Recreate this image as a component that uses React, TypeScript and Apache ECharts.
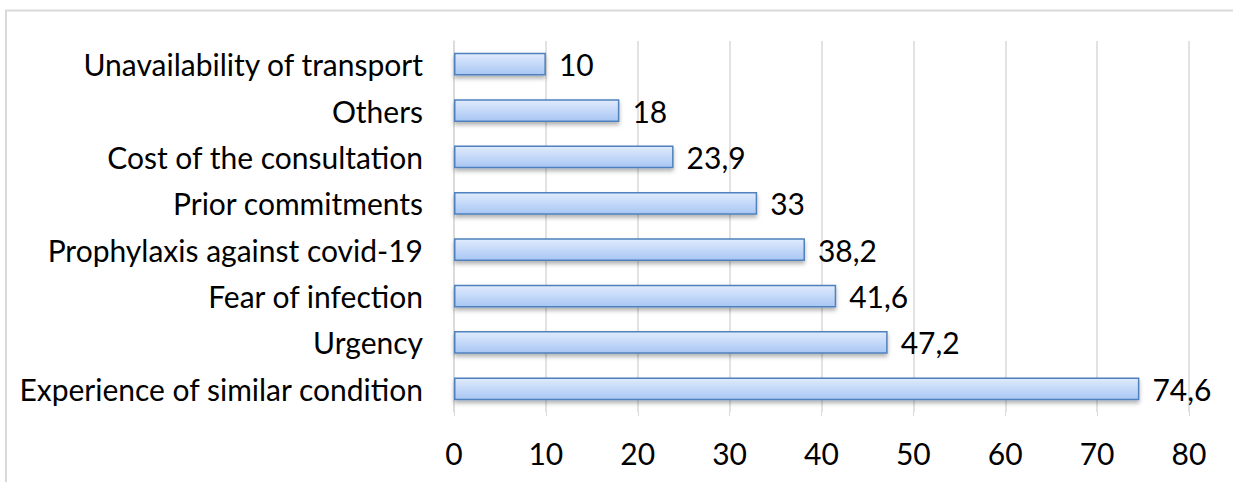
import React, { useEffect, useRef } from "react";
import * as echarts from "echarts";

const categories = [
  "Experience of similar condition",
  "Urgency",
  "Fear of infection",
  "Prophylaxis against covid-19",
  "Prior commitments",
  "Cost of the consultation",
  "Others",
  "Unavailability of transport",
];
const values = [74.6, 47.2, 41.6, 38.2, 33, 23.9, 18, 10];
const xTicks = [0, 10, 20, 30, 40, 50, 60, 70, 80];

const FONT = "Lato";

export default function App() {
  const ref = useRef<HTMLDivElement>(null);
  useEffect(() => {
    const chart = echarts.init(ref.current!, null, { renderer: "svg" });
    chart.setOption({
      animation: false,
      graphic: [
        {
          type: "rect",
          shape: { x: 6, y: 10.5, width: 1300, height: 600 },
          style: { fill: "none", stroke: "#d9d9d9", lineWidth: 2 },
          silent: true,
          z: -10,
        },
      ],
      grid: { left: 454, right: 44, top: 41, bottom: 70, containLabel: false },
      xAxis: {
        type: "value",
        min: xTicks[0],
        max: xTicks[xTicks.length - 1],
        interval: 10,
        axisLine: { show: false },
        axisTick: { show: true, length: 4, lineStyle: { color: "#d9d9d9" } },
        splitLine: { show: true, lineStyle: { color: "#d9d9d9", width: 1.5 } },
        axisLabel: {
          fontFamily: FONT,
          fontSize: 30,
          color: "#000",
          margin: 26,
        },
      },
      yAxis: {
        type: "category",
        data: categories,
        axisLine: { show: true, lineStyle: { color: "#d9d9d9", width: 1.5 } },
        axisTick: { show: false },
        axisLabel: {
          fontFamily: FONT,
          fontSize: 30,
          color: "#000",
          margin: 31,
        },
      },
      series: [
        {
          type: "bar",
          data: values,
          barWidth: "49%",
          itemStyle: {
            color: new echarts.graphic.LinearGradient(0, 0, 0, 1, [
              { offset: 0, color: "#e0ebfd" },
              { offset: 1, color: "#a8c6f4" },
            ]),
            borderColor: "#4f81bd",
            borderWidth: 1.5,
            shadowColor: "rgba(0,0,0,0.3)",
            shadowBlur: 4,
            shadowOffsetY: 3,
          },
          label: {
            show: true,
            position: "right",
            distance: 13,
            fontFamily: FONT,
            fontSize: 30,
            color: "#000",
            formatter: (p: any) => String(p.value).replace(".", ","),
          },
        },
      ],
    });
    return () => chart.dispose();
  }, []);
  return (
    <div
      ref={ref}
      style={{ position: "absolute", left: 0, top: 0, width: 1233, height: 482 }}
    />
  );
}
